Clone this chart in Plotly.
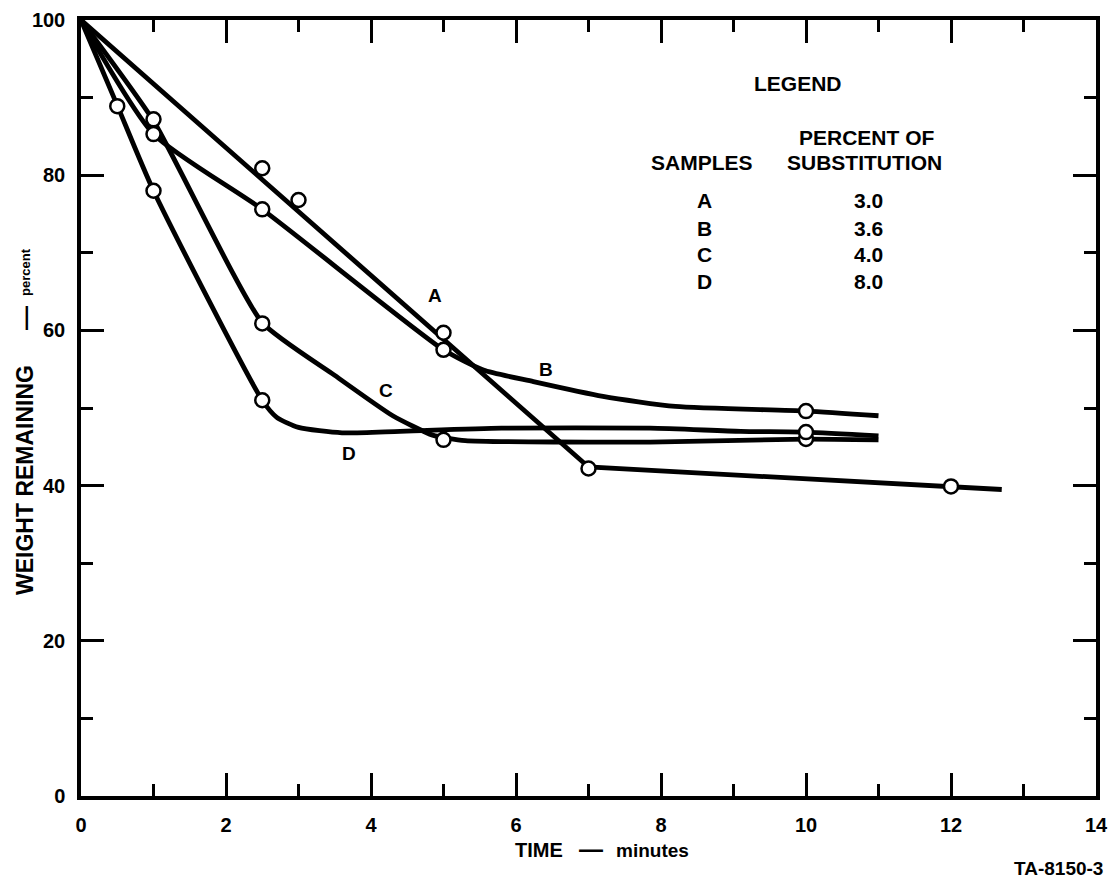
import plotly.graph_objects as go

# ---------------- data ----------------
# observed sample points (open circles)
time_A_obs = [2.5, 3.0, 5.0, 7.0, 12.0]
weight_A_obs = [80.9, 76.8, 59.7, 42.2, 39.9]

time_B_obs = [1.0, 2.5, 5.0, 10.0]
weight_B_obs = [85.3, 75.6, 57.5, 49.6]

time_C_obs = [1.0, 2.5, 5.0, 10.0]
weight_C_obs = [87.2, 60.9, 45.9, 46.0]

time_D_obs = [0.5, 1.0, 2.5, 10.0]
weight_D_obs = [88.9, 78.0, 51.0, 46.9]

# hand-drawn fitted curves
time_A_fit = [0.0, 7.0, 12.7]
weight_A_fit = [100.0, 42.4, 39.5]

time_B_fit = [0.0, 1.0, 2.5, 5.0, 5.55, 6.24, 7.2, 8.2, 10.0, 11.0]
weight_B_fit = [100.0, 85.3, 75.6, 57.5, 54.9, 53.4, 51.5, 50.2, 49.6, 49.0]

time_C_fit = [0.0, 1.0, 2.5, 3.5, 4.3, 4.85, 5.3, 7.85, 10.0, 11.0]
weight_C_fit = [100.0, 87.0, 61.0, 54.2, 49.0, 46.5, 45.8, 45.6, 46.0, 45.9]

time_D_fit = [0.0, 0.5, 1.0, 2.5, 2.7, 3.0, 3.6, 4.4, 5.8, 7.85, 9.1, 10.0, 11.0]
weight_D_fit = [100.0, 89.0, 78.0, 51.0, 48.8, 47.5, 46.8, 47.0, 47.4, 47.4, 47.0, 46.9, 46.4]

sample_names = ["A", "B", "C", "D"]
substitution_pct = ["3.0", "3.6", "4.0", "8.0"]

x_tick_vals = [0, 2, 4, 6, 8, 10, 12, 14]
y_tick_vals = [0, 20, 40, 60, 80, 100]

# ---------------- figure ----------------
W, H = 1117, 881
OFF = 8  # page body margin in the browser
ML, MR, MT, MB = 81 - OFF, 21 + OFF, 20 - OFF, 85 + OFF
PW, PH = W - ML - MR, H - MT - MB
FONT = "Liberation Sans, Arial, sans-serif"

fig = go.Figure()

fits = [
    (time_A_fit, weight_A_fit, "linear", 0),
    (time_B_fit, weight_B_fit, "spline", 0.6),
    (time_C_fit, weight_C_fit, "spline", 0.5),
    (time_D_fit, weight_D_fit, "spline", 0.6),
]
for tx, wy, shape, sm in fits:
    line = dict(color="black", width=4.8, shape=shape)
    if shape == "spline":
        line["smoothing"] = sm
    fig.add_trace(go.Scatter(x=tx, y=wy, mode="lines", line=line,
                             hoverinfo="skip", showlegend=False))

obs = [
    (time_A_obs, weight_A_obs),
    (time_B_obs, weight_B_obs),
    (time_C_obs, weight_C_obs),
    (time_D_obs, weight_D_obs),
]
for tx, wy in obs:
    fig.add_trace(go.Scatter(
        x=tx, y=wy, mode="markers",
        marker=dict(symbol="circle", size=14, color="white",
                    line=dict(color="black", width=2.5)),
        showlegend=False, cliponaxis=False))


def px2paper(px, py):
    # px, py are screen pixels of the reference picture
    return (px - OFF - ML) / PW, (OFF + MT + PH - py) / PH


annotations = []


def add_text(text, px, py, size=21, angle=0, xanchor="center"):
    xp, yp = px2paper(px, py)
    annotations.append(dict(
        text=text, x=xp, y=yp, xref="paper", yref="paper",
        xanchor=xanchor, yanchor="middle", showarrow=False, textangle=angle,
        font=dict(family=FONT, size=size, color="black", weight="bold")))


# legend block
add_text("LEGEND", 798, 83)
add_text("PERCENT OF", 867, 137)
add_text("SAMPLES", 702, 162)
add_text("SUBSTITUTION", 864, 162)
row_y = [201, 228, 254, 281]
for name, pct, ry in zip(sample_names, substitution_pct, row_y):
    add_text(name, 704, ry)
    add_text(pct, 868, ry)

# curve labels (data coordinates)
for name, lx, ly in zip(sample_names, [4.88, 6.41, 4.21, 3.70], [64.5, 55.0, 52.3, 44.2]):
    annotations.append(dict(
        text=name, x=lx, y=ly, xref="x", yref="y", showarrow=False,
        font=dict(family=FONT, size=19, color="black", weight="bold")))

# axis titles (pieces) and figure id
add_text("WEIGHT REMAINING", 25, 480, size=23, angle=-90)
add_text("—", 24, 318, size=24, angle=-90)
add_text("percent", 25, 272, size=13, angle=-90)
add_text("TIME", 539, 850, size=20)
add_text("—", 591, 848, size=24)
add_text("minutes", 652, 850, size=19)
add_text("TA-8150-3", 1058, 868, size=19)

axis_common = dict(
    showline=True, linecolor="black", linewidth=3.5, mirror="ticks",
    ticks="inside", tickcolor="black", tickwidth=3, ticklen=23,
    showgrid=False, zeroline=False, automargin=False,
    tickfont=dict(family=FONT, size=20, color="black", weight="bold"),
)

fig.update_layout(
    width=W, height=H, autosize=False,
    margin=dict(l=ML, r=MR, t=MT, b=MB, autoexpand=False),
    paper_bgcolor="white", plot_bgcolor="white",
    xaxis=dict(range=[0, 14], tickvals=x_tick_vals, ticklabelstandoff=8,
               minor=dict(dtick=1, ticks="inside", ticklen=12, tickwidth=3,
                          tickcolor="black", showgrid=False),
               **axis_common),
    yaxis=dict(range=[0, 100], tickvals=y_tick_vals, ticklabelstandoff=8,
               minor=dict(dtick=10, ticks="inside", ticklen=12, tickwidth=3,
                          tickcolor="black", showgrid=False),
               **axis_common),
    annotations=annotations,
    showlegend=False,
)

fig.write_html("out.html")
